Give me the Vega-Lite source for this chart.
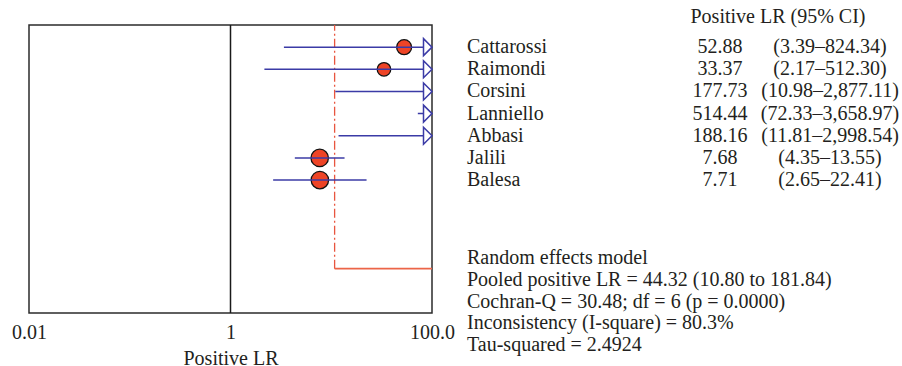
{
  "$schema": "https://vega.github.io/schema/vega-lite/v6.json",
  "background": "white",
  "padding": {"left": 10, "top": 7, "right": 0, "bottom": 0},
  "bounds": "flush",
  "spacing": 0,
  "config": {
    "font": "Liberation Serif",
    "view": {"stroke": null},
    "text": {"font": "Liberation Serif", "fontSize": 20, "color": "#231f20"}
  },
  "datasets": {
    "studies": [
      {"study": "Cattarossi", "order": 1, "lr": 52.88, "lower": 3.39, "upper": 824.34, "weight": 56},
      {"study": "Raimondi", "order": 2, "lr": 33.37, "lower": 2.17, "upper": 512.30, "weight": 46},
      {"study": "Corsini", "order": 3, "lr": 177.73, "lower": 10.98, "upper": 2877.11, "weight": 30},
      {"study": "Lanniello", "order": 4, "lr": 514.44, "lower": 72.33, "upper": 3658.97, "weight": 30},
      {"study": "Abbasi", "order": 5, "lr": 188.16, "lower": 11.81, "upper": 2998.54, "weight": 30},
      {"study": "Jalili", "order": 6, "lr": 7.68, "lower": 4.35, "upper": 13.55, "weight": 76},
      {"study": "Balesa", "order": 7, "lr": 7.71, "lower": 2.65, "upper": 22.41, "weight": 76}
    ],
    "pooled": [
      {"model": "Random effects model", "lr": 44.32, "lower": 10.80, "upper": 181.84, "row": 11}
    ]
  },
  "hconcat": [
    {
      "width": 403,
      "height": 288,
      "view": {"stroke": "#2b2b2b", "strokeWidth": 1.5},
      "layer": [
        {
          "data": {"values": [{"ref": 1}]},
          "mark": {"type": "rule", "color": "#1a1a1a", "strokeWidth": 1.5},
          "encoding": {
            "x": {
              "field": "ref", "type": "quantitative",
              "scale": {"type": "log", "domain": [0.01, 100], "nice": false},
              "axis": {
                "values": [0.01, 1, 100],
                "labelExpr": "datum.value >= 100 ? '100.0' : datum.value == 1 ? '1' : '0.01'",
                "ticks": false, "domain": false, "grid": false,
                "labelFont": "Liberation Serif", "labelFontSize": 20, "labelColor": "#231f20",
                "labelPadding": 9, "labelFlush": false,
                "title": "Positive LR", "titleFont": "Liberation Serif", "titleFontSize": 20,
                "titleFontWeight": "normal", "titleColor": "#231f20", "titlePadding": 6
              }
            }
          }
        },
        {
          "data": {"name": "pooled"},
          "mark": {"type": "rule", "color": "#e8553f", "strokeWidth": 1.3, "strokeDash": [9, 3, 2, 3]},
          "encoding": {
            "x": {"field": "lower", "type": "quantitative"},
            "y": {"field": "row", "type": "quantitative", "scale": {"domain": [0, 13], "reverse": true, "nice": false, "zero": false}, "axis": null},
            "y2": {"datum": 0}
          }
        },
        {
          "data": {"name": "pooled"},
          "mark": {"type": "rule", "color": "#ec6548", "strokeWidth": 1.8, "clip": true},
          "encoding": {
            "x": {"field": "lower", "type": "quantitative"},
            "x2": {"field": "upper"},
            "y": {"field": "row", "type": "quantitative"}
          }
        },
        {
          "data": {"name": "studies"},
          "transform": [{"filter": "datum.lr <= 100"}],
          "mark": {"type": "point", "shape": "circle", "filled": true, "fill": "#ee4426", "stroke": "#111111", "strokeWidth": 1.3, "opacity": 1},
          "encoding": {
            "x": {"field": "lr", "type": "quantitative"},
            "y": {"field": "order", "type": "quantitative"},
            "size": {"field": "weight", "type": "quantitative", "scale": {"type": "linear", "domain": [0, 100], "range": [0, 400]}, "legend": null}
          }
        },
        {
          "data": {"name": "studies"},
          "mark": {"type": "rule", "color": "#3b3ba6", "strokeWidth": 1.5, "clip": true},
          "encoding": {
            "x": {"field": "lower", "type": "quantitative"},
            "x2": {"field": "upper"},
            "y": {"field": "order", "type": "quantitative"}
          }
        },
        {
          "data": {"name": "studies"},
          "transform": [{"filter": "datum.upper > 100"}],
          "mark": {"type": "point", "shape": "M-1,-1L0,0L-1,1Z", "size": 289, "fill": "white", "stroke": "#3b3ba6", "strokeWidth": 1.5, "opacity": 1},
          "encoding": {
            "x": {"datum": 100, "type": "quantitative"},
            "y": {"field": "order", "type": "quantitative"}
          }
        }
      ]
    },
    {
      "width": 460,
      "height": 288,
      "layer": [
        {
          "data": {"name": "studies"},
          "mark": {"type": "text", "align": "left", "baseline": "middle"},
          "encoding": {
            "x": {"datum": 35, "type": "quantitative", "scale": {"domain": [0, 460], "nice": false, "zero": false}, "axis": null},
            "y": {"field": "order", "type": "quantitative", "scale": {"domain": [0, 13], "reverse": true, "nice": false, "zero": false}, "axis": null},
            "text": {"field": "study"}
          }
        },
        {
          "data": {"name": "studies"},
          "mark": {"type": "text", "align": "center", "baseline": "middle"},
          "encoding": {
            "x": {"datum": 288, "type": "quantitative"},
            "y": {"field": "order", "type": "quantitative"},
            "text": {"field": "lr", "type": "quantitative", "format": ".2f"}
          }
        },
        {
          "data": {"name": "studies"},
          "transform": [{"calculate": "'(' + format(datum.lower, '.2f') + '\u2013' + format(datum.upper, ',.2f') + ')'", "as": "ci"}],
          "mark": {"type": "text", "align": "center", "baseline": "middle"},
          "encoding": {
            "x": {"datum": 398, "type": "quantitative"},
            "y": {"field": "order", "type": "quantitative"},
            "text": {"field": "ci"}
          }
        },
        {
          "data": {"values": [{"h": "Positive LR (95% CI)"}]},
          "mark": {"type": "text", "align": "center", "baseline": "middle"},
          "encoding": {
            "x": {"datum": 346, "type": "quantitative"},
            "y": {"datum": -0.35, "type": "quantitative"},
            "text": {"field": "h"}
          }
        },
        {
          "data": {"values": [{"t": 1}]},
          "mark": {"type": "text", "align": "left", "baseline": "middle", "lineHeight": 21.8},
          "encoding": {
            "x": {"datum": 35, "type": "quantitative"},
            "y": {"datum": 10.52, "type": "quantitative"},
            "text": {"value": ["Random effects model", "Pooled positive LR = 44.32 (10.80 to 181.84)", "Cochran-Q = 30.48; df = 6 (p = 0.0000)", "Inconsistency (I-square) = 80.3%", "Tau-squared = 2.4924"]}
          }
        }
      ]
    }
  ]
}
